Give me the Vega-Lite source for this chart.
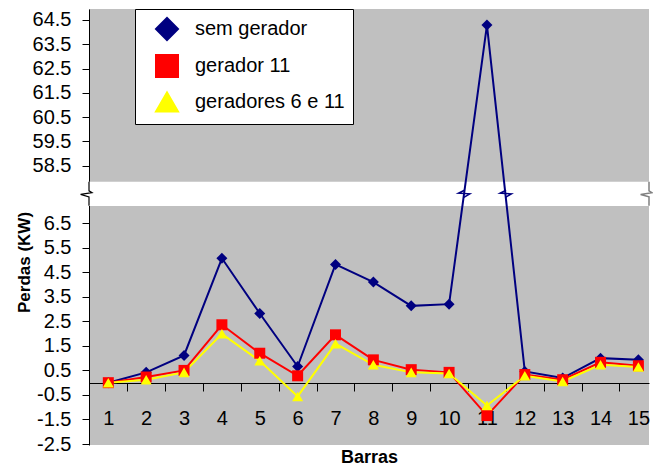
{
  "$schema": "https://vega.github.io/schema/vega-lite/v6.json",
  "autosize": "none",
  "padding": {"left": 89, "top": 9, "right": 4, "bottom": 21},
  "width": 560,
  "height": 436,
  "background": "white",
  "config": {
    "view": {"fill": "#C0C0C0", "stroke": null},
    "axis": {"grid": false, "labelFont": "Liberation Sans", "titleFont": "Liberation Sans", "labelColor": "black", "titleColor": "black", "domainColor": "black", "tickColor": "black"},
    "legend": {"labelFont": "Liberation Sans"}
  },
  "datasets": {
    "perdas": [
      {"barra": 1, "serie": "sem gerador", "perda": 0.0},
      {"barra": 2, "serie": "sem gerador", "perda": 0.42},
      {"barra": 3, "serie": "sem gerador", "perda": 1.11},
      {"barra": 4, "serie": "sem gerador", "perda": 5.07},
      {"barra": 5, "serie": "sem gerador", "perda": 2.82},
      {"barra": 6, "serie": "sem gerador", "perda": 0.66},
      {"barra": 7, "serie": "sem gerador", "perda": 4.82},
      {"barra": 8, "serie": "sem gerador", "perda": 4.1},
      {"barra": 9, "serie": "sem gerador", "perda": 3.13},
      {"barra": 10, "serie": "sem gerador", "perda": 3.2},
      {"barra": 11, "serie": "sem gerador", "perda": 64.29},
      {"barra": 12, "serie": "sem gerador", "perda": 0.46},
      {"barra": 13, "serie": "sem gerador", "perda": 0.19},
      {"barra": 14, "serie": "sem gerador", "perda": 1.0},
      {"barra": 15, "serie": "sem gerador", "perda": 0.93},
      {"barra": 1, "serie": "gerador 11", "perda": 0.0},
      {"barra": 2, "serie": "gerador 11", "perda": 0.23},
      {"barra": 3, "serie": "gerador 11", "perda": 0.5},
      {"barra": 4, "serie": "gerador 11", "perda": 2.36},
      {"barra": 5, "serie": "gerador 11", "perda": 1.2},
      {"barra": 6, "serie": "gerador 11", "perda": 0.28},
      {"barra": 7, "serie": "gerador 11", "perda": 1.95},
      {"barra": 8, "serie": "gerador 11", "perda": 0.93},
      {"barra": 9, "serie": "gerador 11", "perda": 0.53},
      {"barra": 10, "serie": "gerador 11", "perda": 0.42},
      {"barra": 11, "serie": "gerador 11", "perda": -1.34},
      {"barra": 12, "serie": "gerador 11", "perda": 0.33},
      {"barra": 13, "serie": "gerador 11", "perda": 0.12},
      {"barra": 14, "serie": "gerador 11", "perda": 0.83},
      {"barra": 15, "serie": "gerador 11", "perda": 0.69},
      {"barra": 1, "serie": "geradores 6 e 11", "perda": 0.0},
      {"barra": 2, "serie": "geradores 6 e 11", "perda": 0.12},
      {"barra": 3, "serie": "geradores 6 e 11", "perda": 0.42},
      {"barra": 4, "serie": "geradores 6 e 11", "perda": 1.99},
      {"barra": 5, "serie": "geradores 6 e 11", "perda": 0.89},
      {"barra": 6, "serie": "geradores 6 e 11", "perda": -0.56},
      {"barra": 7, "serie": "geradores 6 e 11", "perda": 1.59},
      {"barra": 8, "serie": "geradores 6 e 11", "perda": 0.73},
      {"barra": 9, "serie": "geradores 6 e 11", "perda": 0.42},
      {"barra": 10, "serie": "geradores 6 e 11", "perda": 0.37},
      {"barra": 11, "serie": "geradores 6 e 11", "perda": -0.93},
      {"barra": 12, "serie": "geradores 6 e 11", "perda": 0.28},
      {"barra": 13, "serie": "geradores 6 e 11", "perda": 0.05},
      {"barra": 14, "serie": "geradores 6 e 11", "perda": 0.73},
      {"barra": 15, "serie": "geradores 6 e 11", "perda": 0.64}
    ],
    "quebra": [
      {"barra": 0.49, "barra_fim": 15.28, "perda": 7.2, "perda_fim": 57.84}
    ],
    "zigue": [
      {"barra": 0.49, "perda": 32.52, "tipo": "eixo"},
      {"barra": 10.39, "perda": 32.52, "tipo": "linha"},
      {"barra": 11.49, "perda": 32.52, "tipo": "linha"},
      {"barra": 15.28, "perda": 32.52, "tipo": "borda"}
    ]
  },
  "encoding": {
    "x": {"field": "barra", "type": "quantitative", "scale": {"domain": [0.49, 15.28], "zero": false, "nice": false},
      "axis": {"values": [1,2,3,4,5,6,7,8,9,10,11,12,13,14,15], "format": "d", "offset": -62, "tickSize": 8, "tickOffset": 18.93, "labelOffset": -18.93, "labelPadding": 27.7, "labelBaseline": "middle", "labelFontSize": 20, "labelFlush": false, "labelOverlap": false, "title": "Barras", "titleFontSize": 18, "titleFontWeight": "bold", "titleY": 74, "titleBaseline": "middle"}},
    "y": {"field": "perda", "type": "quantitative", "scale": {"domain": [-2.54, 7.2, 57.84, 64.95], "range": [436, 197, 172.7, 0], "zero": false, "nice": false},
      "axis": {"values": [-2.5,-1.5,-0.5,0.5,1.5,2.5,3.5,4.5,5.5,6.5,58.5,59.5,60.5,61.5,62.5,63.5,64.5], "labelExpr": "replace(format(datum.value, '.1f'), '\u2212', '-')", "tickSize": 7, "labelPadding": 11, "labelFontSize": 20, "labelOverlap": false, "labelFlush": false, "title": "Perdas (KW)", "titleFontSize": 17, "titleFontWeight": "bold", "titleX": -65, "titleY": 253, "titleBaseline": "middle", "titleAngle": -90}}
  },
  "layer": [
    {
      "data": {"name": "quebra"},
      "mark": {"type": "rect", "fill": "white", "stroke": null},
      "encoding": {
        "x2": {"field": "barra_fim"},
        "y2": {"field": "perda_fim"}
      }
    },
    {
      "data": {"name": "perdas"},
      "mark": {"type": "line", "strokeWidth": 2},
      "encoding": {
        "color": {"field": "serie", "type": "nominal", "scale": {"domain": ["sem gerador", "gerador 11", "geradores 6 e 11"], "range": ["#000080", "#FF0000", "#FFFF00"]},
          "legend": {"title": null, "orient": "none", "legendX": 46, "legendY": 0, "fillColor": "white", "strokeColor": "black", "padding": 8, "rowPadding": 7, "labelFontSize": 20, "labelColor": "black", "labelOffset": 16, "symbolOffset": 12, "symbolSize": 484, "symbolStrokeWidth": 2}},
        "detail": {"field": "serie"}
      }
    },
    {
      "data": {"name": "perdas"},
      "mark": {"type": "point", "filled": true, "size": 121, "opacity": 1, "strokeWidth": 0},
      "encoding": {
        "fill": {"field": "serie", "type": "nominal", "scale": {"domain": ["sem gerador", "gerador 11", "geradores 6 e 11"], "range": ["#000080", "#FF0000", "#FFFF00"]}, "legend": null},
        "shape": {"field": "serie", "type": "nominal", "scale": {"domain": ["sem gerador", "gerador 11", "geradores 6 e 11"], "range": ["diamond", "square", "triangle-up"]}, "legend": null}
      }
    },
    {
      "data": {"name": "zigue"},
      "transform": [{"filter": "datum.tipo === 'eixo'"}],
      "mark": {"type": "point", "filled": false, "size": 576, "strokeWidth": 1.2, "opacity": 1, "stroke": "#000000", "shape": "M0,-1L0,-0.25L0.25,-0.1L-0.7,0.05L0,0.25L0,1"}
    },
    {
      "data": {"name": "zigue"},
      "transform": [{"filter": "datum.tipo === 'linha'"}],
      "mark": {"type": "point", "filled": false, "size": 576, "strokeWidth": 1.5, "opacity": 1, "stroke": "#000080", "shape": "M0.05,-0.3L-0.45,-0.05L0.5,0L0,0.3"}
    },
    {
      "data": {"name": "zigue"},
      "transform": [{"filter": "datum.tipo === 'borda'"}],
      "mark": {"type": "point", "filled": false, "size": 576, "strokeWidth": 1.5, "opacity": 1, "stroke": "#808080", "shape": "M0,-1L0,-0.25L0.25,-0.1L-0.7,0.05L0,0.25L0,1"}
    }
  ]
}
